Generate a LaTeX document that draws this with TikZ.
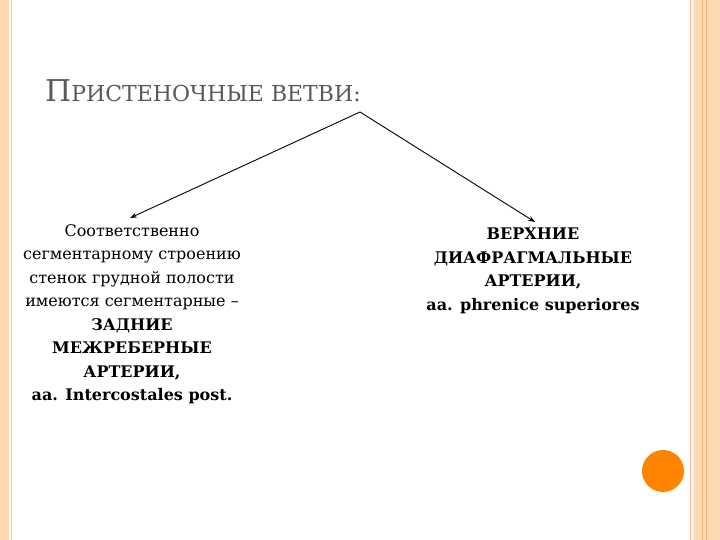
\documentclass[tikz,border=0pt]{standalone}
\usepackage{fontspec}
\usetikzlibrary{arrows.meta}
\setmainfont{DejaVu Serif}
\begin{document}
\begin{tikzpicture}[x=1pt,y=-1pt,
  body/.style={align=center,font=\fontsize{16}{23.5}\selectfont,inner sep=0pt},
  arr/.style={-{Stealth[length=7pt,width=5pt]},line width=0.9pt}]
\useasboundingbox (0,0) rectangle (720,540);
\fill[white] (0,0) rectangle (720,540);
\fill[orange!30!white] (0,0) rectangle (9,540);
\draw[orange!40!white,line width=1pt] (11,0) -- (11,540);
\fill[orange!30!white] (694,0) rectangle (720,540);
\fill[white!90!orange] (690,0) rectangle (694,540);
\draw[orange!50!white,line width=0.8pt] (690,0) -- (690,540);
\draw[orange!60!white,line width=0.8pt] (702,0) -- (702,540);
\draw[orange!60!white,line width=0.8pt] (706,0) -- (706,540);
\fill[orange!85!yellow!90!red] (663,471) circle (21);
\node[anchor=base west,text=black!65,inner sep=0pt] (title) at (45,102)
  {\fontsize{30}{34}\selectfont П\fontsize{22}{26}\selectfont РИСТЕНОЧНЫЕ ВЕТВИ:};
\coordinate (top) at (360,112);
\node[body] (left) at (132,314) {Соответственно\\сегментарному строению\\стенок грудной полости\\имеются сегментарные –\\\textbf{ЗАДНИЕ}\\\textbf{МЕЖРЕБЕРНЫЕ}\\\textbf{АРТЕРИИ,}\\\textbf{aa. Intercostales post.}};
\node[body] (right) at (533,271) {\textbf{ВЕРХНИЕ}\\\textbf{ДИАФРАГМАЛЬНЫЕ}\\\textbf{АРТЕРИИ,}\\\textbf{aa. phrenice superiores}};
\coordinate (la) at (130,218);
\coordinate (ra) at (535,222);
\draw[arr] (top) -- (la);
\draw[arr] (top) -- (ra);
\end{tikzpicture}
\end{document}
